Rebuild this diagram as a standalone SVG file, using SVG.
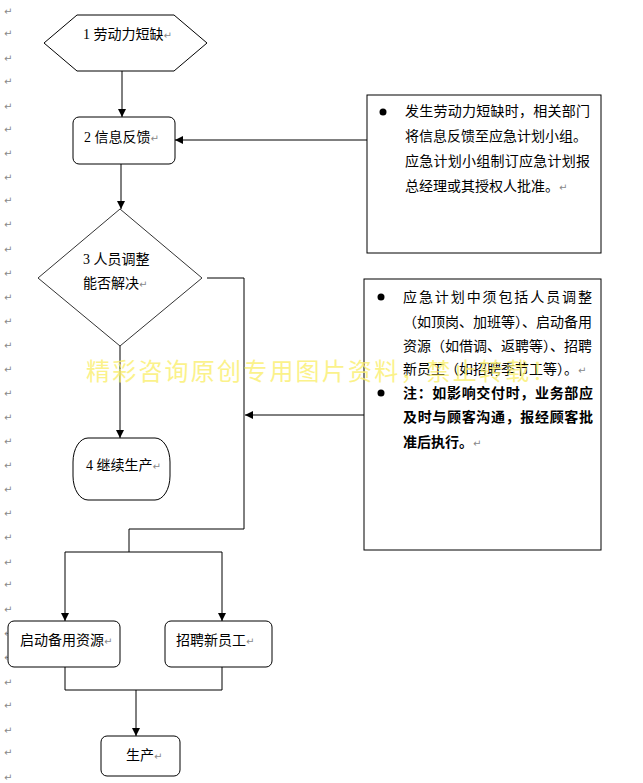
<svg xmlns="http://www.w3.org/2000/svg" width="643" height="783" viewBox="0 0 643 783">
<style>
.shape{fill:#fff;stroke:#000;stroke-width:1}
.diamond{fill:#fff;stroke:#333;stroke-width:1}
.t{font-family:"Liberation Serif","Noto Sans CJK SC",serif;font-size:14px;fill:#000}
.b{font-weight:bold}
.pm{font-family:"DejaVu Sans",sans-serif;font-size:10px;fill:#888}
.line{fill:none;stroke:#000;stroke-width:1}
.arr{fill:none;stroke:#000;stroke-width:1;marker-end:url(#ah)}
.wm{font-family:"Noto Sans CJK SC",sans-serif;font-size:24px;fill:#fbef6e;opacity:0.8;letter-spacing:2.2px}
</style>
<defs>
<marker id="ah" markerWidth="8" markerHeight="8" refX="8" refY="4" orient="auto" markerUnits="userSpaceOnUse">
<path d="M0,0 L8,4 L0,8 Z" fill="#000"/>
</marker>
</defs>
<g id="margin-marks">
<text class="pm" x="4" y="15">↵</text>
<text class="pm" x="4" y="37">↵</text>
<text class="pm" x="4" y="62">↵</text>
<text class="pm" x="4" y="85">↵</text>
<text class="pm" x="4" y="110">↵</text>
<text class="pm" x="4" y="133">↵</text>
<text class="pm" x="4" y="157">↵</text>
<text class="pm" x="4" y="181">↵</text>
<text class="pm" x="4" y="204">↵</text>
<text class="pm" x="4" y="228">↵</text>
<text class="pm" x="4" y="253">↵</text>
<text class="pm" x="4" y="277">↵</text>
<text class="pm" x="4" y="301">↵</text>
<text class="pm" x="4" y="325">↵</text>
<text class="pm" x="4" y="349">↵</text>
<text class="pm" x="4" y="373">↵</text>
<text class="pm" x="4" y="397">↵</text>
<text class="pm" x="4" y="421">↵</text>
<text class="pm" x="4" y="445">↵</text>
<text class="pm" x="4" y="469">↵</text>
<text class="pm" x="4" y="493">↵</text>
<text class="pm" x="4" y="517">↵</text>
<text class="pm" x="4" y="541">↵</text>
<text class="pm" x="4" y="566">↵</text>
<text class="pm" x="4" y="588">↵</text>
<text class="pm" x="4" y="613">↵</text>
<text class="pm" x="4" y="637">↵</text>
<text class="pm" x="4" y="661">↵</text>
<text class="pm" x="4" y="686">↵</text>
<text class="pm" x="4" y="709">↵</text>
<text class="pm" x="4" y="734">↵</text>
<text class="pm" x="4" y="756">↵</text>
<text class="pm" x="4" y="781">↵</text>
</g>
<g id="connectors">
<line class="arr" x1="122" y1="71" x2="122" y2="117"/>
<line class="arr" x1="367" y1="140" x2="175" y2="140"/>
<line class="arr" x1="121" y1="164" x2="121" y2="209"/>
<line class="arr" x1="120" y1="346" x2="120" y2="438"/>
<polyline class="line" points="207,278 244,278 244,529 129,529 129,552"/>
<line class="arr" x1="364" y1="415" x2="245" y2="415"/>
<line class="line" x1="65" y1="552" x2="222" y2="552"/>
<line class="arr" x1="65" y1="552" x2="65" y2="621"/>
<line class="arr" x1="222" y1="552" x2="222" y2="621"/>
<polyline class="line" points="65,667 65,690 222,690 222,667"/>
<line class="arr" x1="136" y1="690" x2="136" y2="736"/>
</g>
<g id="n1">
<polygon class="shape" points="44,43 77,15 174,15 207,43 174,71 77,71"/>
<text class="t" x="83" y="39">1 劳动力短缺<tspan class="pm">↵</tspan></text>
</g>
<g id="n2">
<rect class="shape" x="73" y="117" width="102" height="47" rx="6"/>
<text class="t" x="84" y="142">2 信息反馈<tspan class="pm">↵</tspan></text>
</g>
<g id="note1">
<rect class="shape" x="367" y="95" width="234" height="158"/>
<circle cx="383" cy="112" r="3.5" fill="#000"/>
<text class="t" x="405" y="116" textLength="185" lengthAdjust="spacing">发生劳动力短缺时，相关部门</text>
<text class="t" x="405" y="141" textLength="182" lengthAdjust="spacing">将信息反馈至应急计划小组。</text>
<text class="t" x="405" y="166" textLength="185" lengthAdjust="spacing">应急计划小组制订应急计划报</text>
<text class="t" x="405" y="191">总经理或其授权人批准。<tspan class="pm">↵</tspan></text>
</g>
<g id="n3">
<polygon class="diamond" points="120,209 202,278 120,346 38,278"/>
<text class="t" x="83" y="264">3 人员调整</text>
<text class="t" x="83" y="288">能否解决<tspan class="pm">↵</tspan></text>
</g>
<g id="note2">
<rect class="shape" x="364" y="279" width="237" height="271"/>
<circle cx="381" cy="297" r="3.5" fill="#000"/>
<text class="t" x="403" y="302" textLength="189" lengthAdjust="spacing">应急计划中须包括人员调整</text>
<text class="t" x="403" y="327" textLength="189" lengthAdjust="spacingAndGlyphs">（如顶岗、加班等）、启动备用</text>
<text class="t" x="403" y="351" textLength="189" lengthAdjust="spacingAndGlyphs">资源（如借调、返聘等）、招聘</text>
<text class="t" x="403" y="374">新员工（如招聘季节工等）。<tspan class="pm">↵</tspan></text>
<circle cx="381" cy="393" r="3.5" fill="#000"/>
<text class="t b" x="403" y="398" textLength="190" lengthAdjust="spacing">注：如影响交付时，业务部应</text>
<text class="t b" x="403" y="422" textLength="190" lengthAdjust="spacing">及时与顾客沟通，报经顾客批</text>
<text class="t b" x="403" y="447">准后执行。<tspan class="pm" font-weight="normal">↵</tspan></text>
</g>
<g id="n4">
<rect class="shape" x="73" y="438" width="97" height="62" rx="15" ry="24"/>
<text class="t" x="86" y="470">4 继续生产<tspan class="pm">↵</tspan></text>
</g>
<g id="n5">
<rect class="shape" x="8" y="621" width="112" height="46" rx="6"/>
<text class="t" x="20" y="645">启动备用资源<tspan class="pm">↵</tspan></text>
</g>
<g id="n6">
<rect class="shape" x="165" y="621" width="107" height="46" rx="6"/>
<text class="t" x="176" y="645">招聘新员工<tspan class="pm">↵</tspan></text>
</g>
<g id="n7">
<rect class="shape" x="101" y="736" width="79" height="40" rx="6"/>
<text class="t" x="126" y="760">生产<tspan class="pm">↵</tspan></text>
</g>
<g id="watermark">
<text class="wm" x="86" y="380">精彩咨询原创专用图片资料，禁止转载！</text>
</g>
</svg>
